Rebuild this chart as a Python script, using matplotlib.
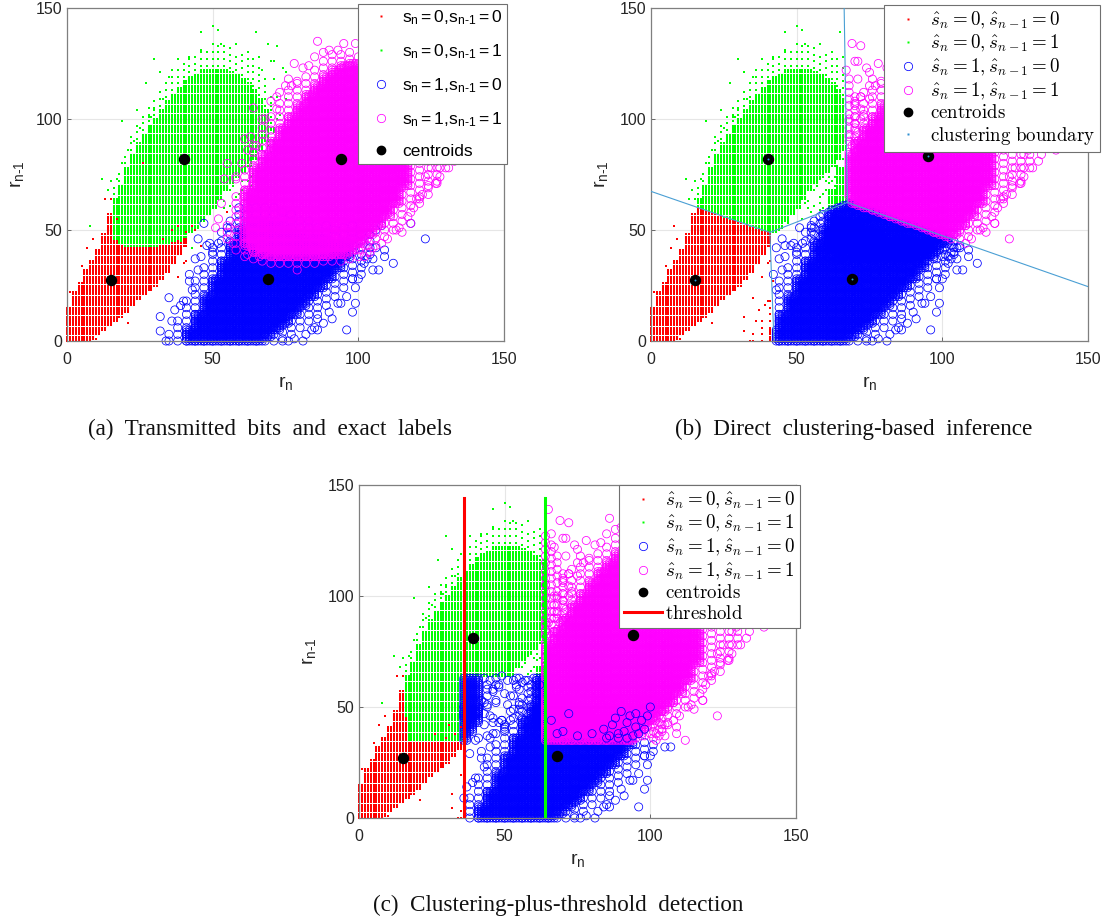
import numpy as np
import matplotlib
matplotlib.use("Agg")
import matplotlib.pyplot as plt
from matplotlib.font_manager import FontProperties
from matplotlib.lines import Line2D

plt.rcParams['font.family'] = ['Liberation Sans', 'DejaVu Sans']
plt.rcParams['mathtext.fontset'] = 'custom'
plt.rcParams['mathtext.rm'] = 'Liberation Sans'
plt.rcParams['mathtext.it'] = 'Liberation Sans:italic'
plt.rcParams['mathtext.default'] = 'it'

# column tables: x, lowest y, highest y
red_x = [0, 2, 4, 6, 8, 10, 12, 14, 16, 18, 20, 22, 24, 26, 28, 30, 32, 34, 36, 38, 40]
red_lo = [0, 0, 0, 0, 1, 3, 5, 7, 9, 11, 13, 16, 19, 21, 23, 25, 28, 31, 35, 39, 43]
red_hi = [15, 22, 26, 32, 36, 41, 48, 57, 59, 59, 57, 56, 55, 54, 53, 52, 50, 49, 48, 48, 48]

green_x = [16, 18, 20, 22, 24, 26, 28, 30, 32, 34, 36, 38, 40, 42, 44, 46, 48, 50, 52, 54, 56, 58, 60, 62, 64, 66, 68, 70]
green_lo = [46, 44, 43, 43, 43, 43, 43, 43, 44, 44, 45, 46, 47, 49, 51, 54, 57, 60, 64, 68, 71, 74, 76, 79, 82, 86, 90, 95]
green_hi = [64, 70, 78, 84, 89, 93, 97, 100, 104, 108, 111, 114, 117, 119, 120, 122, 122, 122, 122, 122, 121, 120, 118, 116, 113, 109, 104, 96]
green_out = [70, 76, 84, 92, 98, 102, 106, 110, 114, 118, 122, 124, 126, 128, 129, 130, 130, 132, 133, 133, 132, 130, 130, 129, 127, 125, 120, 110]

blue_x = [35, 38, 41, 44, 47, 50, 53, 56, 59, 62, 65, 68, 71, 74, 77, 80, 83, 86, 89, 92, 95, 98, 101, 104]
blue_lo = [0, 0, 0, 0, 0, 0, 0, 0, 0, 0, 0, 0, 0, 1, 3, 6, 9, 12, 16, 20, 24, 28, 33, 39]
blue_hi = [3, 11, 20, 28, 35, 42, 47, 54, 60, 62, 62, 62, 60, 58, 57, 56, 54, 53, 52, 52, 52, 52, 50, 50]
blue_core_x = [41, 44, 47, 50, 53, 56, 59, 62, 65, 68, 71, 74, 77, 80, 83, 86, 89, 92, 95]
blue_core_lo = [0, 0, 0, 0, 0, 0, 0, 0, 0, 2, 5, 8, 12, 16, 20, 24, 28, 33, 38]
blue_core_hi = [5, 12, 20, 28, 36, 44, 50, 52, 54, 54, 52, 50, 48, 46, 46, 46, 45, 44, 44]

mag_x = [55, 58, 61, 64, 67, 70, 73, 76, 79, 82, 85, 88, 91, 94, 97, 100, 103, 106, 109, 112, 115, 118, 121, 124, 127, 130]
mag_lo = [46, 41, 38, 37, 36, 35, 35, 35, 35, 35, 35, 36, 36, 36, 37, 38, 40, 43, 47, 50, 54, 58, 62, 66, 72, 78]
mag_hi = [54, 66, 78, 88, 96, 102, 108, 113, 118, 121, 124, 127, 129, 130, 130, 130, 128, 126, 124, 120, 116, 112, 106, 100, 94, 88]
mag_core_x = [61, 64, 67, 70, 73, 76, 79, 82, 85, 88, 91, 94, 97, 100, 103, 106, 109, 112, 115]
mag_core_lo = [43, 40, 39, 38, 38, 38, 38, 38, 38, 38, 39, 39, 41, 44, 48, 52, 57, 62, 70]
mag_core_hi = [68, 78, 84, 90, 96, 101, 106, 111, 115, 119, 122, 124, 125, 124, 122, 118, 112, 105, 95]

# lone points
red_extra_x = [1, 2, 5, 7, 9, 13, 15, 17, 26, 38, 41, 40, 31, 29, 27, 21, 10, 8, 46, 43, 44, 41, 55, 36, 38, 33, 37, 28, 31, 33, 35, 30, 26]
red_extra_y = [22, 21, 34, 42, 46, 64, 64, 55, 80, 29, 36, 35, 26, 23, 22, 8, 1, 0, 43, 52, 50, 49, 58, 50, 52, 46, 44, 40, 42, 38, 41, 36, 38]
green_extra_x = [50, 52, 46, 65, 69, 72, 30, 27, 24, 19, 12, 8, 35, 32, 38, 42, 46, 50, 53, 58, 62, 66, 70, 75, 71, 75, 70, 68, 63, 65, 58,
                 60, 52, 49, 47, 51, 56, 46, 43, 39, 35, 72, 72, 71, 68, 66, 61, 56, 54, 58, 60, 63,
                 71, 74, 67, 22, 25, 28, 30, 33, 14, 15, 17, 19, 21, 23, 26, 29, 71, 73, 69, 66, 64, 62, 59, 63, 67, 70, 54, 57]
green_extra_y = [142, 140, 139, 139, 134, 133, 127, 116, 104, 99, 73, 52, 119, 121, 127, 128, 131, 134, 134, 134, 130, 128, 126, 121, 118, 109, 106, 92, 79, 83, 77,
                 72, 68, 64, 60, 64, 61, 58, 42, 45, 46, 110, 100, 90, 85, 78, 80, 68, 63, 65, 68, 70,
                 126, 123, 122, 92, 96, 101, 104, 109, 68, 72, 73, 80, 86, 90, 95, 101, 94, 102, 88, 82, 75, 72, 66, 74, 80, 85, 60, 70]
blue_extra_x = [32, 32, 35, 37, 34, 45, 47, 48, 44, 45, 42, 50, 55, 52, 123, 118, 112, 109, 109, 105, 107, 105, 96, 99, 98, 94, 86, 86, 81, 76, 84, 100, 98, 102, 108, 106,
                36, 39, 40, 43, 42, 46, 49, 53, 90, 93, 96, 99, 101, 103, 106, 88, 85, 82, 78, 74, 91]
blue_extra_y = [11, 4.5, 19.5, 14, 0, 46, 53, 43, 37, 32, 27, 40, 51, 44, 46, 53, 35, 38, 41, 32, 32, 37, 5, 17, 13, 17, 10, 5, 0, 0, 5, 28, 28, 35, 52, 50,
                9, 16, 18, 23, 30, 38, 44, 49, 13, 17, 20, 24, 30, 37, 42, 8, 6, 3, 1, 0, 10]
mag_extra_x = [86, 95, 99, 88, 93, 78, 83, 77, 79, 64, 72, 61, 65, 55, 54, 58, 53, 52, 51, 57, 62, 66, 79, 127, 121, 115, 114, 105, 111, 128, 139, 133, 129.5, 126.5, 120, 118,
               132, 134, 128, 124, 122, 119, 117, 113, 110, 108, 104, 102, 125, 123, 128, 131, 70, 73, 67, 76, 81, 75, 85, 90, 60, 58, 62, 63, 68, 72]
mag_extra_y = [135, 134, 134, 130, 131, 125, 124, 115, 117, 105, 104.5, 91, 88, 80, 73, 73, 62, 55, 51, 44, 39, 38, 32, 71, 64, 49, 51, 42, 56, 78, 86, 81, 86, 71, 64, 53,
               90, 84, 74, 70, 66, 60, 56, 50, 46, 44, 40, 38, 78, 74, 84, 78, 108, 112, 100, 118, 123, 115, 128, 131, 80, 74, 86, 92, 100, 110]

# points on top in panel c
c_blue_x = [43, 45, 47, 49, 51, 44, 46, 48, 50, 53, 55, 42, 44, 47, 43, 46, 49, 52, 54, 57, 60, 62, 50, 47, 45]
c_blue_y = [63, 62, 63, 64, 62, 58, 57, 59, 56, 55, 63, 53, 51, 52, 47, 45, 44, 48, 59, 62, 63, 60, 41, 38, 36]
c_mix_x = [86, 89, 92, 95, 88, 91, 94, 97, 99, 85, 90, 93, 96, 87, 84, 92, 98, 100, 95, 89, 70, 75, 66, 80, 72, 68]
c_mix_y = [37, 38, 43, 41, 45, 39, 37, 44, 46, 36, 48, 46, 38, 42, 40, 36, 40, 50, 47, 36, 39, 37, 44, 38, 47, 38]

cent_a_x = [15, 40, 69, 94]
cent_a_y = [27.5, 82, 28, 82]
cent_b_x = [15, 40, 69, 95]
cent_b_y = [27.5, 82, 28, 83.5]
cent_c_x = [15, 39, 68, 94]
cent_c_y = [27, 81, 28, 82.5]

# straight pieces of the clustering boundary
bound_x = [[0, 40.8], [40.8, 67.4], [40.8, 42.2], [67.4, 66.3], [67.4, 150]]
bound_y = [[67.4, 48.9], [48.9, 62.4], [48.9, 0], [62.4, 150], [62.4, 24.5]]

thr_x = [36, 64]
thr_top = 144
thr_y_low = 35
thr_y_high = 64

labels_a = [r'$\mathrm{s_n{=}0{,}s_{n‐1}{=}0}$', r'$\mathrm{s_n{=}0{,}s_{n‐1}{=}1}$',
            r'$\mathrm{s_n{=}1{,}s_{n‐1}{=}0}$', r'$\mathrm{s_n{=}1{,}s_{n‐1}{=}1}$', 'centroids']
labels_hat = [r'$\hat{s}_n=0,\hat{s}_{n-1}=0$', r'$\hat{s}_n=0,\hat{s}_{n-1}=1$',
              r'$\hat{s}_n=1,\hat{s}_{n-1}=0$', r'$\hat{s}_n=1,\hat{s}_{n-1}=1$', r'$\mathrm{centroids}$']
captions = ['(a)  Transmitted  bits  and  exact  labels', '(b)  Direct  clustering-based  inference', '(c)  Clustering-plus-threshold  detection']

W, H = 1107, 924
colors = ['#ff0000', '#00ff00', '#0000ff', '#ff00ff']
# dot a little taller than wide, so columns stay apart and rows close up
dot = [(-0.75, -1), (0.75, -1), (0.75, 1), (-0.75, 1), (-0.75, -1)]


def lattice(xs, los, his, width, step):
    px, py = [], []
    for x, lo, hi in zip(xs, los, his):
        for col in range(x, x + width, step):
            ys = np.arange(lo, hi + 1, step)
            px += [col] * len(ys)
            py += list(ys)
    return px, py


rx, ry = lattice(red_x, red_lo, red_hi, 2, 1)
gx, gy = lattice(green_x, green_lo, green_hi, 2, 1)
ox, oy = lattice(green_x, [h + 2 for h in green_hi], green_out, 2, 3)
bx1, by1 = lattice(blue_x, blue_lo, blue_hi, 3, 3)
bx2, by2 = lattice(blue_core_x, blue_core_lo, blue_core_hi, 3, 1)
mx1, my1 = lattice(mag_x, mag_lo, mag_hi, 3, 3)
mx2, my2 = lattice(mag_core_x, mag_core_lo, mag_core_hi, 3, 1)

# x, y, true label, lone point flag
xs = np.array(rx + gx + ox + red_extra_x + green_extra_x + bx1 + bx2 + blue_extra_x + mx1 + mx2 + mag_extra_x, dtype=float)
ys = np.array(ry + gy + oy + red_extra_y + green_extra_y + by1 + by2 + blue_extra_y + my1 + my2 + mag_extra_y, dtype=float)
true = np.array([0] * len(rx) + [1] * (len(gx) + len(ox)) + [0] * len(red_extra_x) + [1] * len(green_extra_x)
                + [2] * (len(bx1) + len(bx2) + len(blue_extra_x)) + [3] * (len(mx1) + len(mx2) + len(mag_extra_x)))
lone = np.array([0] * (len(rx) + len(gx)) + [1] * (len(ox) + len(red_extra_x) + len(green_extra_x))
                + [0] * (len(bx1) + len(bx2)) + [1] * len(blue_extra_x)
                + [0] * (len(mx1) + len(mx2)) + [1] * len(mag_extra_x), dtype=bool)


def nearest_centroid():
    d = [(xs - cx) ** 2 + (ys - cy) ** 2 for cx, cy in zip(cent_b_x, cent_b_y)]
    return np.argmin(np.array(d), axis=0)


def threshold_rule():
    lab = np.zeros(len(xs), dtype=int)
    left = xs < thr_x[0]
    mid = (xs >= thr_x[0]) & (xs < thr_x[1])
    right = xs >= thr_x[1]
    lab[left & (ys >= thr_y_low)] = 1
    lab[left & (true == 0) & (xs < 17)] = 0
    lab[mid & (ys < thr_y_high)] = 2
    lab[mid & (ys >= thr_y_high)] = 1
    lab[right & (ys >= thr_y_low)] = 3
    lab[right & (ys < thr_y_low)] = 2
    return lab


def thin(lab):
    # dots that turn into circles are not all kept, circles would close up
    keep = np.ones(len(xs), dtype=bool)
    moved = (true < 2) & (lab >= 2) & ~lone
    fine = moved & (xs < 42)
    coarse = moved & (xs >= 42) & (xs < 52) & (xs % 4 == 0) & (ys % 5 == 0)
    far = moved & (xs >= 64) & (xs % 2 == 0) & (ys % 3 == 0)
    keep[moved] = False
    keep[fine | coarse | far] = True
    return keep


def make_axes(left, top):
    ax = fig.add_axes([left / W, 1 - (top + 333) / H, 437 / W, 333 / H])
    ax.set_xlim(0, 150)
    ax.set_ylim(0, 150)
    ax.set_xticks([0, 50, 100, 150])
    ax.set_yticks([0, 50, 100, 150])
    ax.grid(True, color='#e6e6e6', lw=0.8)
    ax.set_axisbelow(True)
    ax.tick_params(direction='in', length=3, width=0.6, color='#555555', labelcolor='#262626', labelsize=11.5)
    ax.tick_params(axis='x', pad=8)
    ax.tick_params(axis='y', pad=3.5)
    for s in ax.spines.values():
        s.set_color('#7f7f7f')
        s.set_linewidth(0.9)
    ax.set_xlabel(r'$\mathrm{r_n}$', fontsize=14, color='#262626', labelpad=5)
    ax.set_ylabel(r'$\mathrm{r_{n‐1}}$', fontsize=14, color='#262626', labelpad=7)
    return ax


def draw_points(ax, lab, keep=None):
    if keep is None:
        keep = np.ones(len(xs), dtype=bool)
    for k in range(4):
        sel = (lab == k) & keep
        if k < 2:
            ax.scatter(xs[sel], ys[sel], s=3.0, marker=dot, color=colors[k], linewidths=0, zorder=2 + k * 0.1, clip_on=False)
        else:
            ax.scatter(xs[sel], ys[sel], s=34, marker='o', facecolors='none', edgecolors=colors[k], linewidths=0.55,
                       zorder=2 + k * 0.1, clip_on=False)


def legend_handles():
    h = [Line2D([], [], ls='', marker='s', ms=1.8, mfc=colors[0], mec='none'),
         Line2D([], [], ls='', marker='s', ms=1.8, mfc=colors[1], mec='none'),
         Line2D([], [], ls='', marker='o', ms=6, mfc='none', mec=colors[2], mew=0.55),
         Line2D([], [], ls='', marker='o', ms=6, mfc='none', mec=colors[3], mew=0.55),
         Line2D([], [], ls='', marker='o', ms=6, mfc='k', mec='k')]
    return h


def put_legend(ax, handles, labels, x0, y0, size, spacing, math, hlen):
    prop = FontProperties(size=size, math_fontfamily=math)
    leg = ax.legend(handles, labels, loc='upper left', bbox_to_anchor=(x0 / W, 1 - y0 / H), bbox_transform=fig.transFigure,
                    prop=prop, frameon=True, fancybox=False, framealpha=1, edgecolor='#707070', borderaxespad=0,
                    labelspacing=spacing, handlelength=hlen, handletextpad=0.2, borderpad=0.25, numpoints=1)
    leg.get_frame().set_linewidth(0.8)
    leg.set_zorder(20)


fig = plt.figure(figsize=(W / 100, H / 100), dpi=100)

# panel a
ax = make_axes(67, 8)
draw_points(ax, true)
ax.scatter(red_extra_x, red_extra_y, s=3.0, marker=dot, color=colors[0], linewidths=0, zorder=2.15)
ax.scatter(cent_a_x, cent_a_y, s=52, color='k', zorder=5)
put_legend(ax, legend_handles(), labels_a, 358, 4, 12.5, 0.88, 'custom', 2.1)

# panel b
ax = make_axes(651, 8)
lab_b = nearest_centroid()
draw_points(ax, lab_b, thin(lab_b))
for bxs, bys in zip(bound_x, bound_y):
    ax.plot(bxs, bys, color='#4a9fd4', lw=0.8, zorder=4)
ax.scatter(cent_b_x, cent_b_y, s=52, color='k', zorder=5)
ax.scatter(cent_b_x, cent_b_y, s=2, color='#2f9fe0', zorder=6, linewidths=0)
hb = legend_handles() + [Line2D([], [], ls='', marker='s', ms=1.6, mfc='#2f8fd0', mec='none')]
put_legend(ax, hb, labels_hat + [r'$\mathrm{clustering\ boundary}$'], 884, 5, 13.6, 0.14, 'cm', 2.0)

# panel c
ax = make_axes(359, 485)
lab_c = threshold_rule()
draw_points(ax, lab_c, thin(lab_c))
ax.scatter(red_extra_x[-5:], red_extra_y[-5:], s=3.0, marker=dot, color=colors[0], linewidths=0, zorder=2.35)
ax.scatter(c_blue_x, c_blue_y, s=34, facecolors='none', edgecolors=colors[2], linewidths=0.55, zorder=2.35)
ax.scatter(c_mix_x, c_mix_y, s=34, facecolors='none', edgecolors=colors[2], linewidths=0.55, zorder=3.5)
ax.plot([thr_x[0], thr_x[0]], [0, thr_top], color='#ff0000', lw=2.2, zorder=4)
ax.plot([thr_x[1], thr_x[1]], [0, thr_top], color='#00ff00', lw=2.2, zorder=4)
ax.scatter(cent_c_x, cent_c_y, s=52, color='k', zorder=5)
hc = legend_handles() + [Line2D([], [], color='#ff0000', lw=2.2)]
put_legend(ax, hc, labels_hat + [r'$\mathrm{threshold}$'], 619, 485, 13.6, 0.14, 'cm', 2.0)

# captions
cap_font = {'family': 'Liberation Serif', 'fontsize': 16.7, 'color': '#111111', 'ha': 'center', 'va': 'center'}
fig.text(270 / W, 1 - 429 / H, captions[0], **cap_font)
fig.text(854 / W, 1 - 429 / H, captions[1], **cap_font)
fig.text(558 / W, 1 - 905 / H, captions[2], **cap_font)

fig.savefig('out.png', dpi=100)
